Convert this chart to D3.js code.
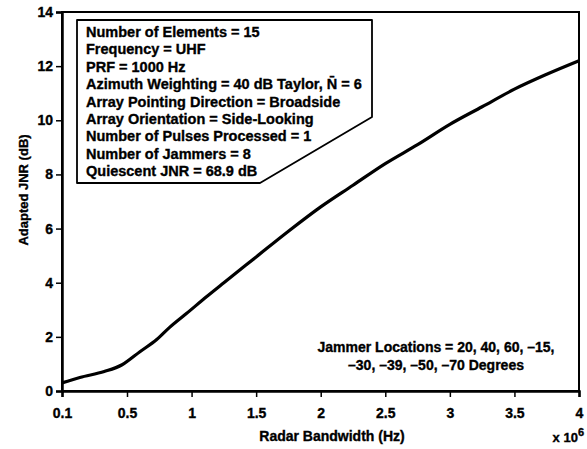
<!DOCTYPE html>
<html>
<head>
<meta charset="utf-8">
<script src="https://d3js.org/d3.v7.min.js"></script>
<style>
  body { margin: 0; background: #fff; }
  text { font-family: "Liberation Sans", Arial, sans-serif; font-weight: bold; fill: #000; stroke: #000; stroke-width: 0.35px; }
</style>
</head>
<body>
<div id="chart"></div>
<script>
// radar bandwidth (x 10^6 Hz) and adapted JNR (dB)
const bandwidth = [0.1, 0.21, 0.36, 0.47, 0.6, 0.73, 0.83, 0.96, 1.12, 1.25, 1.5, 1.75, 2.0, 2.25, 2.5, 2.75, 3.0, 3.25, 3.5, 3.75, 4.0];
const jnr = [0.3, 0.5, 0.72, 0.97, 1.45, 1.9, 2.35, 2.86, 3.5, 4.0, 4.95, 5.9, 6.8, 7.6, 8.4, 9.1, 9.85, 10.5, 11.15, 11.7, 12.2];

const xTicks = [0.1, 0.5, 1, 1.5, 2, 2.5, 3, 3.5, 4];
const yTicks = [0, 2, 4, 6, 8, 10, 12, 14];

const infoLines = [
    'Number of Elements = 15',
    'Frequency = UHF',
    'PRF = 1000 Hz',
    'Azimuth Weighting = 40 dB Taylor, N\u0304 = 6',
    'Array Pointing Direction = Broadside',
    'Array Orientation = Side-Looking',
    'Number of Pulses Processed = 1',
    'Number of Jammers = 8',
    'Quiescent JNR = 68.9 dB'
];
const jammerLines = [
    'Jammer Locations = 20, 40, 60, \u201315,',
    '\u201330, \u201339, \u201350, \u201370 Degrees'
];

const width = 587, height = 449;
const plotLeft = 62, plotRight = 579, plotTop = 12, plotBottom = 391;

const svg = d3.select('#chart').append('svg')
    .attr('width', width)
    .attr('height', height);

// the first tick (0.1) sits where 0 would be, so use a two-piece scale
const x = d3.scaleLinear()
    .domain([0.1, 0.5, 4])
    .range([plotLeft, 127, plotRight]);
const y = d3.scaleLinear()
    .domain([0, 14])
    .range([plotBottom, plotTop]);

// frame
svg.append('rect')
    .attr('x', plotLeft).attr('y', plotTop)
    .attr('width', plotRight - plotLeft).attr('height', plotBottom - plotTop)
    .attr('fill', 'none')
    .attr('stroke', '#000')
    .attr('stroke-width', 2);

const xAxis = svg.append('g')
    .attr('transform', `translate(0,${plotBottom})`)
    .call(d3.axisBottom(x).tickValues(xTicks).tickSize(6).tickFormat(d => d));
const yAxis = svg.append('g')
    .attr('transform', `translate(${plotLeft},0)`)
    .call(d3.axisLeft(y).tickValues(yTicks).tickSize(6).tickFormat(d => d));

[xAxis, yAxis].forEach(g => {
    g.select('.domain').attr('stroke', '#000').attr('stroke-width', 2.5);
    g.selectAll('.tick line').attr('stroke', '#000').attr('stroke-width', 1.5);
    g.selectAll('.tick text').style('font-size', '14px');
});
xAxis.selectAll('.tick text').attr('dy', '1.25em');
yAxis.selectAll('.tick text').attr('x', -9);

// curve
const line = d3.line()
    .x((d, i) => x(bandwidth[i]))
    .y(d => y(d))
    .curve(d3.curveMonotoneX);
svg.append('path')
    .datum(jnr)
    .attr('d', line)
    .attr('fill', 'none')
    .attr('stroke', '#000')
    .attr('stroke-width', 3.2);

// info box with chamfered corner
const bx0 = 77, by0 = 20, bx1 = 372, by1 = 183;
svg.append('path')
    .attr('d', `M${bx0},${by0} L${bx1},${by0} L${bx1},117 L260,${by1} L${bx0},${by1} Z`)
    .attr('fill', '#fff')
    .attr('stroke', '#000')
    .attr('stroke-width', 1.8)
    .attr('stroke-linejoin', 'round');

svg.append('g')
    .selectAll('text')
    .data(infoLines)
    .join('text')
    .attr('x', 86)
    .attr('y', (d, i) => 37 + i * 17.4)
    .style('font-size', '14.5px')
    .text(d => d);

svg.append('g')
    .selectAll('text')
    .data(jammerLines)
    .join('text')
    .attr('x', 436)
    .attr('y', (d, i) => 352 + i * 17.5)
    .attr('text-anchor', 'middle')
    .style('font-size', '14px')
    .text(d => d);

// axis titles
svg.append('text')
    .attr('x', 332).attr('y', 441)
    .attr('text-anchor', 'middle')
    .style('font-size', '14px')
    .text('Radar Bandwidth (Hz)');

const exp = svg.append('text')
    .attr('x', 584).attr('y', 442)
    .attr('text-anchor', 'end')
    .style('font-size', '13px');
exp.append('tspan').text('x 10');
exp.append('tspan').attr('dy', -6).style('font-size', '11px').text('6');

svg.append('text')
    .attr('transform', `translate(28,190) rotate(-90)`)
    .attr('text-anchor', 'middle')
    .style('font-size', '13px')
    .text('Adapted JNR (dB)');
</script>
</body>
</html>
